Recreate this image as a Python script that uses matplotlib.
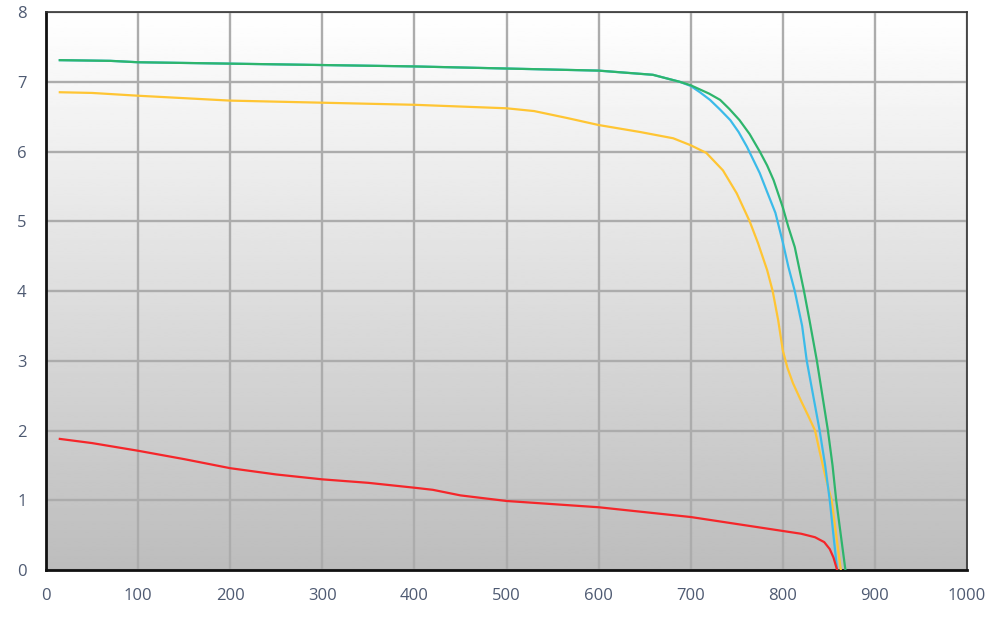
import matplotlib
matplotlib.use("Agg")
import matplotlib.pyplot as plt
import numpy as np

# curves
green_x = [15, 70, 100, 200, 300, 400, 500, 600, 659, 688, 700, 710, 720, 732, 742, 753, 764, 775, 783,
           790, 800, 806, 813, 823, 829, 837, 843, 849, 854, 858, 863, 868]
green_y = [7.31, 7.30, 7.28, 7.26, 7.24, 7.22, 7.19, 7.16, 7.10, 7.00, 6.95, 6.89, 6.83, 6.74, 6.61, 6.45, 6.25,
           6.00, 5.80, 5.59, 5.20, 4.92, 4.63, 4.00, 3.58, 3.00, 2.50, 2.00, 1.50, 1.00, 0.50, 0.0]

blue_x = [15, 70, 100, 200, 300, 400, 500, 600, 659, 688, 700, 710, 721, 732, 743, 752, 761, 768, 775,
          783, 792, 800, 806, 813, 821, 826, 833, 840, 846, 851, 855, 859]
blue_y = [7.31, 7.30, 7.28, 7.26, 7.24, 7.22, 7.19, 7.16, 7.10, 7.00, 6.94, 6.85, 6.74, 6.60, 6.45, 6.28, 6.07,
          5.88, 5.69, 5.42, 5.12, 4.70, 4.35, 4.00, 3.50, 3.00, 2.50, 2.00, 1.50, 1.00, 0.50, 0.0]

yellow_x = [15, 50, 100, 200, 300, 400, 500, 530, 566, 600, 645, 681, 700, 717, 735, 750, 764, 773, 783,
            789, 795, 800, 805, 811, 820, 828, 835, 840, 847, 853, 858, 863]
yellow_y = [6.85, 6.84, 6.80, 6.73, 6.70, 6.67, 6.62, 6.58, 6.48, 6.38, 6.28, 6.19, 6.09, 5.98, 5.73, 5.40,
            5.00, 4.69, 4.30, 4.00, 3.58, 3.15, 2.90, 2.68, 2.42, 2.20, 2.00, 1.70, 1.30, 1.00, 0.50, 0.0]

red_x = [15, 50, 100, 150, 200, 250, 300, 350, 400, 420, 450, 500, 600, 700, 800, 820, 835, 845, 851, 855, 859]
red_y = [1.88, 1.82, 1.71, 1.59, 1.46, 1.37, 1.30, 1.25, 1.18, 1.15, 1.07, 0.99, 0.90, 0.76, 0.56, 0.52, 0.47,
         0.40, 0.30, 0.18, 0.0]

x_ticks = list(range(0, 1001, 100))
y_ticks = list(range(0, 9))

fig = plt.figure(figsize=(10, 6.2), dpi=100)
ax = fig.add_axes([0.046, 0.0806, 0.921, 0.9])

# vertical white-to-gray gradient background
grad = np.linspace(1.0, 0.74, 256).reshape(-1, 1)
ax.imshow(grad, cmap="gray", vmin=0, vmax=1, aspect="auto", origin="upper",
          extent=[0, 1000, 0, 8], zorder=0, interpolation="bilinear")

ax.plot(yellow_x, yellow_y, color="#ffc533", lw=1.6, zorder=3)
ax.plot(blue_x, blue_y, color="#3bbbe9", lw=1.6, zorder=3)
ax.plot(green_x, green_y, color="#2eb56c", lw=1.6, zorder=4)
ax.plot(red_x, red_y, color="#f5262a", lw=1.6, zorder=3)

ax.set_xlim(0, 1000)
ax.set_ylim(0, 8)
ax.set_xticks(x_ticks)
ax.set_yticks(y_ticks)
ax.grid(True, color="#acacac", lw=1.7)
for line in ax.get_xgridlines() + ax.get_ygridlines():
    line.set_zorder(1)

for side in ["top", "right"]:
    ax.spines[side].set_color("#333333")
    ax.spines[side].set_linewidth(1.2)
for side in ["left", "bottom"]:
    ax.spines[side].set_color("#111111")
    ax.spines[side].set_linewidth(2.0)

ax.tick_params(length=0, labelsize=12, colors="#4e5a72")
ax.tick_params(axis="x", pad=13)
ax.tick_params(axis="y", pad=14)
for lab in ax.get_xticklabels() + ax.get_yticklabels():
    lab.set_fontfamily("Open Sans")

fig.savefig("out.png", dpi=100)
